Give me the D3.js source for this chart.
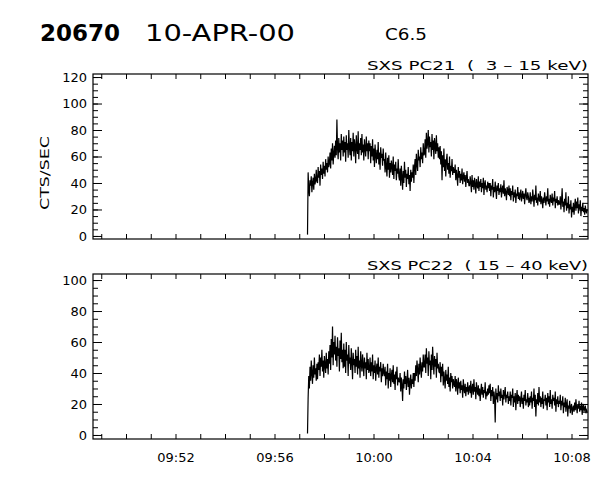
<!DOCTYPE html>
<html><head><meta charset="utf-8">
<script src="https://cdn.jsdelivr.net/npm/d3@7"></script>
<style>
html,body{margin:0;padding:0;background:#fff;}
svg text{font-family:"DejaVu Sans",sans-serif;fill:#000;}
</style></head>
<body><svg id="c" width="600" height="480"></svg>
<script>
// ---- data ----
const titleId = "20670";
const titleDate = "10-APR-00";
const titleClass = "C6.5";
const yLabel = "CTS/SEC";
const panelLabels = ["SXS PC21  (  3 \u2013 15 keV)", "SXS PC22  ( 15 \u2013 40 keV)"];
const timeStart = "2000-04-10T09:57:20Z";
const timeEnd = "2000-04-10T10:08:38Z";
const axisStart = "2000-04-10T09:48:40Z";
const axisEnd = "2000-04-10T10:08:40Z";
const xTickLabels = ["09:52", "09:56", "10:00", "10:04", "10:08"];
const yTicksTop = [0, 20, 40, 60, 80, 100, 120];
const yTicksBottom = [0, 20, 40, 60, 80, 100];

const pc21 = [1,
 48,36,30,42,38,45,33,40,44,35,47,39,42,50,41,
 40,52,44,49,38,54,46,51,43,56,47,53,45,58,50,55,48,60,52,
 55,63,51,66,57,70,54,62,68,59,72,61,88,66,58,74,63,70,57,77,65,72,60,75,
 63,71,56,76,65,70,59,80,67,61,74,57,71,64,78,60,73,68,55,76,66,62,79,58,70,65,74,61,77,63,69,57,73,66,60,75,64,70,58,72,
 64,70,55,68,60,73,57,66,52,69,61,55,65,58,71,54,63,50,67,59,62,53,66,57,
 58,48,63,52,45,59,50,61,44,55,48,57,52,46,60,43,54,49,56,42,51,47,58,45,
 42,51,38,53,45,35,49,40,56,44,50,37,47,43,52,39,46,34,50,41,48,44,54,40,
 52,58,46,62,54,49,65,57,60,52,67,58,63,55,70,61,
 62,73,59,78,66,70,80,63,75,67,71,60,77,65,72,58,74,68,62,76,64,70,59,67,
 58,68,54,64,42,61,52,66,49,58,45,57,62,50,55,47,60,44,53,49,58,46,52,48,
 48,54,42,50,45,38,52,44,49,40,47,42,51,39,45,48,41,46,37,44,49,40,43,38,
 38,45,40,33,46,37,42,35,44,39,32,43,38,36,45,34,41,37,43,33,40,36,44,31,39,42,35,38,33,41,36,40,
 34,40,30,38,35,43,29,37,33,41,35,28,38,34,40,31,36,33,39,29,35,38,32,42,30,36,33,27,37,34,31,38,
 30,36,27,34,31,38,26,33,29,35,25,32,30,37,28,33,27,31,35,26,30,34,28,32,24,31,36,29,27,33,30,25,
 27,33,24,30,26,35,29,22,31,27,38,25,29,23,32,28,26,34,24,30,27,21,29,25,33,28,23,30,26,36,24,28,22,31,27,25,32,23,29,26,34,21,28,25,30,23,27,24,
 24,30,20,27,36,22,26,18,28,23,33,19,25,21,30,17,24,20,27,14,22,18,25,16,23,28,19,26,21,29,17,24,20,27,15,22,19,25,18,21,16,23,19,17,20];

const pc22 = [1,
 24,38,30,44,35,48,40,33,45,37,50,39,43,35,46,
 36,47,42,52,38,50,44,55,41,48,37,51,45,40,53,43,49,39,54,
 46,58,42,62,50,70,45,60,52,64,48,57,44,63,51,56,41,61,49,66,47,55,43,59,
 44,55,40,60,48,52,38,58,46,50,42,56,47,36,53,45,49,40,55,44,51,39,57,43,48,37,54,46,41,52,45,38,50,43,47,36,53,42,49,40,
 42,50,38,47,41,52,36,45,40,48,35,43,46,39,50,37,44,41,47,34,43,38,46,40,
 38,44,32,41,36,46,30,40,35,43,31,38,42,34,45,33,39,29,41,36,44,32,37,35,
 34,40,28,37,32,22,36,30,41,33,38,29,35,42,31,37,26,34,39,30,36,33,40,31,
 40,35,45,38,48,42,34,46,39,50,43,37,47,41,52,44,
 44,52,40,56,46,50,38,54,45,48,36,52,42,57,47,39,51,44,49,37,53,43,46,41,
 40,47,34,44,38,46,32,41,36,30,42,35,39,33,44,31,37,28,40,34,38,30,36,33,
 31,38,28,36,33,26,37,30,34,27,35,29,32,24,36,30,27,33,25,31,28,34,26,30,
 32,27,35,24,30,33,26,36,28,31,23,34,29,26,32,25,30,22,28,33,26,31,24,29,27,34,23,28,25,30,26,32,
 27,33,22,29,25,31,20,28,24,8,30,23,27,21,32,25,28,22,30,24,26,19,29,23,27,31,21,26,24,28,20,25,
 22,28,19,26,24,30,18,25,21,27,16,24,29,20,26,22,25,18,23,28,20,24,17,26,22,29,19,23,21,27,18,24,
 19,25,21,28,17,24,22,30,18,26,12,23,20,27,19,31,21,25,18,24,20,28,17,23,22,26,19,24,16,27,21,25,18,29,20,23,17,26,22,24,19,28,15,23,20,25,18,22,
 20,26,16,22,19,25,14,21,18,24,15,20,23,12,19,17,22,14,18,20,13,17,19,15,21,16,23,18,14,20,17,22,15,19,16,21,13,18,20,15,17,19,14,16,15];

// ---- drawing ----
const svg = d3.select("#c");
const L = 93, R = 588;
const panels = [
  {top: 74, bot: 239, domain: [-2.3, 122.3], ticks: yTicksTop, values: pc21, label: panelLabels[0], xlabels: false},
  {top: 274, bot: 439, domain: [-2.6, 103.9], ticks: yTicksBottom, values: pc22, label: panelLabels[1], xlabels: true}
];

const x = d3.scaleUtc().domain([new Date(axisStart), new Date(axisEnd)]).range([L, R]);
const t0 = +new Date(timeStart), t1 = +new Date(timeEnd);
const minuteTicks = d3.utcMinute.range(new Date(axisStart), new Date(axisEnd));
const fmt = d3.utcFormat("%H:%M");

svg.append("text").attr("x", 40).attr("y", 41).attr("font-size", 23).attr("font-weight", "bold")
  .attr("textLength", 80).attr("lengthAdjust", "spacingAndGlyphs").text(titleId);
svg.append("text").attr("x", 145).attr("y", 41).attr("font-size", 23).attr("font-weight", "normal")
  .attr("textLength", 150).attr("lengthAdjust", "spacingAndGlyphs").text(titleDate);
svg.append("text").attr("x", 385).attr("y", 40).attr("font-size", 16)
  .attr("textLength", 42).attr("lengthAdjust", "spacingAndGlyphs").text(titleClass);

panels.forEach(p => {
  const y = d3.scaleLinear().domain(p.domain).range([p.bot, p.top]);
  const minor = d3.range(p.ticks[0], p.ticks[p.ticks.length - 1] + 0.1, 5);
  const g = svg.append("g");
  g.append("rect").attr("x", L).attr("y", p.top).attr("width", R - L).attr("height", p.bot - p.top)
    .attr("fill", "none").attr("stroke", "#000").attr("stroke-width", 1.2);

  g.append("g").attr("transform", `translate(${L},0)`)
    .call(d3.axisLeft(y).tickValues(p.ticks).tickSize(-9).tickPadding(6).tickFormat(d3.format("d")));
  g.append("g").attr("transform", `translate(${L},0)`)
    .call(d3.axisLeft(y).tickValues(minor).tickSize(-5).tickFormat(""));
  g.append("g").attr("transform", `translate(${R},0)`)
    .call(d3.axisRight(y).tickValues(p.ticks).tickSize(-9).tickFormat(""));
  g.append("g").attr("transform", `translate(${R},0)`)
    .call(d3.axisRight(y).tickValues(minor).tickSize(-5).tickFormat(""));
  g.append("g").attr("transform", `translate(0,${p.bot})`)
    .call(d3.axisBottom(x).tickValues(minuteTicks).tickSize(-5).tickPadding(14)
      .tickFormat(d => { const s = fmt(d); return (p.xlabels && xTickLabels.includes(s)) ? s : ""; }));
  g.append("g").attr("transform", `translate(0,${p.top})`)
    .call(d3.axisTop(x).tickValues(minuteTicks).tickSize(-5).tickFormat(""));

  g.selectAll(".domain").remove();
  g.selectAll(".tick line").attr("stroke", "#000").attr("stroke-width", 1);
  g.selectAll(".tick text").attr("font-size", 13).attr("font-family", "DejaVu Sans").attr("fill", "#000");

  const n = p.values.length;
  const times = p.values.map((v, i) => new Date(t0 + (t1 - t0) * i / (n - 1)));
  const line = d3.line().x((d, i) => x(times[i])).y(d => y(d));
  g.append("path").datum(p.values).attr("d", line).attr("fill", "none").attr("stroke", "#000").attr("stroke-width", 1.2);

  g.append("text").attr("x", R).attr("y", p.top - 4).attr("text-anchor", "end").attr("font-size", 13)
    .attr("textLength", 221).attr("lengthAdjust", "spacingAndGlyphs")
    .style("white-space", "pre").attr("xml:space", "preserve").text(p.label);
});

svg.append("text").attr("transform", "translate(49,173) rotate(-90)").attr("text-anchor", "middle")
  .attr("font-size", 13).attr("textLength", 74).attr("lengthAdjust", "spacingAndGlyphs").text(yLabel);
</script></body></html>
